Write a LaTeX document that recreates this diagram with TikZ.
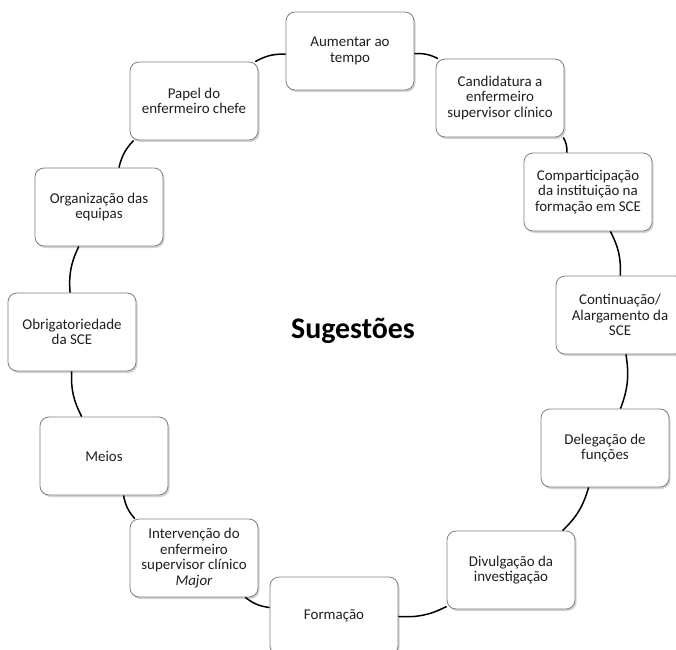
\documentclass[tikz,border=0pt]{standalone}
\usepackage{fontspec}
\setmainfont{Carlito}
\usetikzlibrary{shadows}
\begin{document}
\begin{tikzpicture}[x=1bp,y=-1bp,
  item/.style={draw=black!50, line width=0.8bp, fill=white, rounded corners=9bp,
    minimum width=128bp, minimum height=78bp, align=center, inner sep=1bp,
    font=\fontsize{15}{15.5}\selectfont, text=black!88,
    drop shadow={shadow xshift=1.5bp, shadow yshift=-2bp, opacity=0.35}},
  link/.style={line width=1.5bp, black}]
\useasboundingbox (0,0) rectangle (676,650);

% ring of suggestions, clockwise from the top
\node[item] (aum)    at (350, 51)  {Aumentar ao\\tempo};
\node[item] (cand)   at (500, 98)  {Candidatura a\\enfermeiro\\supervisor clínico};
\node[item] (comp)   at (588, 192) {Comparticipação\\da instituição na\\formação em SCE};
\node[item] (cont)   at (620, 315) {Continuação/\\Alargamento da\\SCE};
\node[item] (deleg)  at (605, 448) {Delegação de\\funções};
\node[item] (divul)  at (511, 570) {Divulgação da\\investigação};
\node[item] (form)   at (334, 616) {Formação};
\node[item] (interv) at (194, 558) {Intervenção do\\enfermeiro\\supervisor clínico\\\textit{Major}};
\node[item] (meios)  at (104, 456) {Meios};
\node[item] (obrig)  at (72, 332)  {Obrigatoriedade\\da SCE};
\node[item] (organ)  at (99, 207)  {Organização das\\equipas};
\node[item] (papel)  at (194, 101) {Papel do\\enfermeiro chefe};

\node (title) at (353, 331) {\fontsize{30}{34}\selectfont\bfseries Sugestões};

% arcs joining neighbouring boxes
\foreach \a/\b in {aum/cand, cand/comp, comp/cont, cont/deleg, deleg/divul,
  divul/form, form/interv, interv/meios, meios/obrig, obrig/organ,
  organ/papel, papel/aum}
  \draw[link] (\a) to[bend left=15] (\b);
\end{tikzpicture}
\end{document}
